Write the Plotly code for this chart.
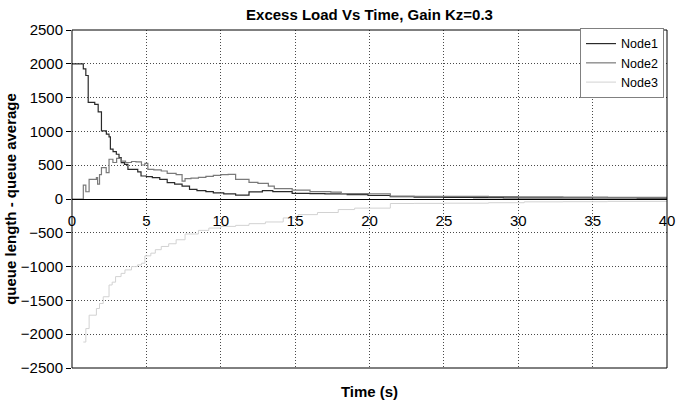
import plotly.graph_objects as go

# ---- data ----
node1_t = [0, 0.76, 0.93, 1.09, 1.53, 1.76, 1.98, 2.31, 2.49, 2.58, 2.76, 2.98, 3.16, 3.31, 3.53,
           3.76, 4.42, 4.64, 5.0, 5.4, 5.9, 6.4, 6.9, 7.4, 7.9, 8.4, 9.0, 9.5, 10.2, 11.0, 11.9,
           12.8, 13.5, 14.8, 16.0, 17.0, 18.5, 19.9, 21.4, 23.0, 25.0, 27.0, 29.0, 32.0, 35.0, 38.0, 40.0]
node1_v = [2000, 1925, 1827, 1430, 1400, 1290, 1009, 960, 920, 737, 700, 662, 613, 539, 513,
           439, 400, 340, 330, 315, 290, 241, 220, 191, 141, 125, 110, 90, 77, 57, 105,
           125, 110, 82, 80, 77, 65, 52, 33, 28, 22, 20, 18, 16, 15, 12, 10]

node2_t = [0, 0.76, 0.93, 1.15, 1.64, 1.72, 1.85, 1.98, 2.3, 2.49, 2.75, 3.0, 3.3, 3.6, 4.0,
           4.3, 4.67, 4.9, 5.1, 5.5, 6.0, 6.4, 7.0, 7.4, 7.6, 8.0, 8.5, 9.0, 9.5, 10.0, 10.5,
           11.0, 11.9, 12.5, 13.2, 13.6, 14.8, 16.0, 17.4, 18.1, 20.0, 21.4, 23.0, 25.0, 28.0,
           30.0, 33.0, 36.0, 40.0]
node2_v = [0, 205, 107, 290, 315, 220, 360, 464, 390, 588, 540, 600, 560, 540, 555,
           548, 503, 528, 439, 430, 414, 379, 360, 265, 300, 310, 320, 335, 350, 360, 364,
           290, 245, 230, 190, 152, 131, 110, 101, 80, 75, 42, 40, 40, 35,
           30, 28, 25, 20]

node3_t = [0.76, 0.93, 1.15, 1.64, 1.85, 2.1, 2.49, 2.7, 2.93, 3.3, 3.56, 4.0, 4.4, 4.67,
           4.9, 5.3, 5.6, 6.0, 6.5, 7.0, 7.6, 8.5, 9.2, 10.0, 11.0, 11.9, 13.0, 14.2, 15.2,
           16.5, 17.9, 19.0, 21.4, 23.0, 25.0, 28.0, 30.4, 33.0, 36.0, 40.0]
node3_v = [-2116, -1917, -1719, -1620, -1545, -1446, -1272, -1230, -1148, -1100, -1049, -1000, -975, -950,
           -841, -801, -750, -702, -662, -603, -518, -464, -430, -405, -390, -365, -340, -280, -231,
           -200, -156, -135, -67, -65, -62, -55, -42, -40, -35, -30]

x_ticks = [0, 5, 10, 15, 20, 25, 30, 35, 40]
y_ticks = [-2500, -2000, -1500, -1000, -500, 0, 500, 1000, 1500, 2000, 2500]

FONT = "Arial, 'Liberation Sans', sans-serif"
GRID = "#4a4a4a"
GRID_DASH = "1px,2px"

fig = go.Figure()
fig.add_trace(go.Scatter(x=node1_t, y=node1_v, mode="lines", line_shape="hv", name="Node1",
                         line=dict(color="#2a2a2a", width=1.2)))
fig.add_trace(go.Scatter(x=node2_t, y=node2_v, mode="lines", line_shape="hv", name="Node2",
                         line=dict(color="#7a7a7a", width=1.2)))
fig.add_trace(go.Scatter(x=node3_t, y=node3_v, mode="lines", line_shape="hv", name="Node3",
                         line=dict(color="#d2d2d2", width=1)))
# axis carrying the tick labels along y = 0
fig.add_trace(go.Scatter(x=[None], y=[None], xaxis="x2", showlegend=False, hoverinfo="skip"))

fig.update_layout(
    width=676, height=400,
    margin=dict(l=72, r=9, t=30, b=32, autoexpand=False),
    paper_bgcolor="white", plot_bgcolor="white",
    font=dict(family=FONT, size=15, color="black"),
    title=dict(text="Excess Load Vs Time, Gain Kz=0.3", font=dict(size=15, weight="bold"),
               x=0.5, xref="paper", xanchor="center", y=1 - 15 / 400, yanchor="middle"),
    xaxis=dict(range=[0, 40], tickvals=x_ticks, showticklabels=False, ticks="",
               showgrid=True, gridcolor=GRID, griddash=GRID_DASH, gridwidth=1,
               zeroline=False, showline=False, automargin=False,
               title=dict(text="Time (s)", font=dict(size=15, weight="bold"), standoff=18)),
    xaxis2=dict(range=[0, 40], matches="x", overlaying="x", anchor="free", position=0.5,
                tickvals=x_ticks, ticktext=[str(v) for v in x_ticks], automargin=False,
                showgrid=False, zeroline=False, showline=True, linecolor="black", linewidth=1,
                ticks="", ticklabelstandoff=8, ticklabeloverflow="allow",
                tickfont=dict(size=15)),
    yaxis=dict(range=[-2500, 2500], tickvals=y_ticks, ticks="outside", ticklen=5,
               tickcolor="black", showgrid=True, gridcolor=GRID, griddash=GRID_DASH,
               gridwidth=1, zeroline=False, showline=False, tickfont=dict(size=15),
               automargin=False,
               title=dict(text="queue length - queue average",
                          font=dict(size=15, weight="bold"), standoff=0)),
    legend=dict(x=0.995, xanchor="right", y=1.006, yanchor="top", bgcolor="white",
                bordercolor="#808080", borderwidth=1, font=dict(size=12.5),
                tracegroupgap=0, itemwidth=30),
    shapes=[dict(type="rect", xref="paper", yref="paper", x0=0, x1=1, y0=0, y1=1,
                 line=dict(color="black", width=1), layer="above")],
    showlegend=True,
)

fig.write_html("out.html")
